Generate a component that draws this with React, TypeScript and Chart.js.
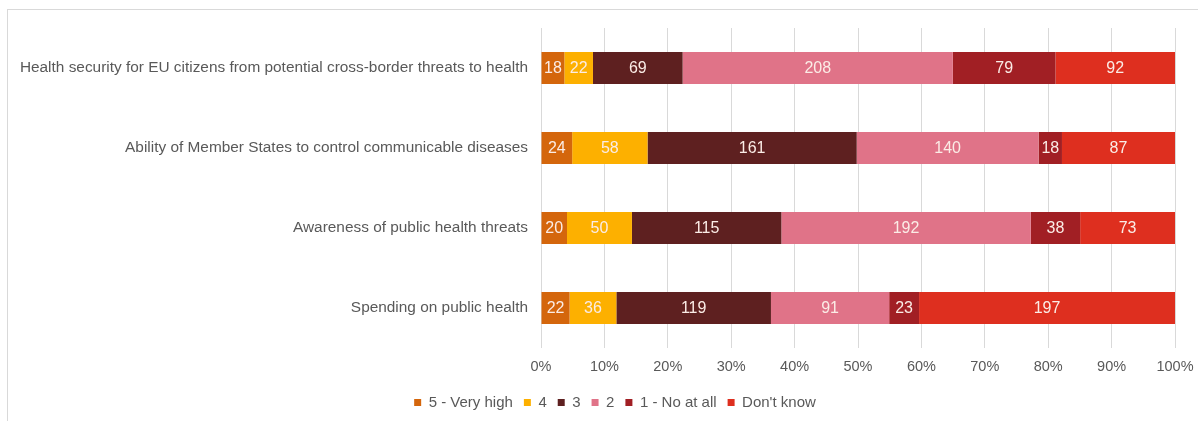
import React, { useEffect, useRef } from 'react';
import { Chart, registerables } from 'chart.js';

Chart.register(...registerables);

const categories = [
  'Health security for EU citizens from potential cross-border threats to health',
  'Ability of Member States to control communicable diseases',
  'Awareness of public health threats',
  'Spending on public health',
];

const seriesNames = ['5 - Very high', '4', '3', '2', '1 - No at all', "Don't know"];

const veryHigh = [18, 24, 20, 22];
const four = [22, 58, 50, 36];
const three = [69, 161, 115, 119];
const two = [208, 140, 192, 91];
const notAtAll = [79, 18, 38, 23];
const dontKnow = [92, 87, 73, 197];

const counts = [veryHigh, four, three, two, notAtAll, dontKnow];

const seriesColors = ['#D4660C', '#FDB000', '#5E2020', '#E07388', '#A11F24', '#DE2F1F'];

const xTickValues = [0, 10, 20, 30, 40, 50, 60, 70, 80, 90, 100];

const FONT = '"Liberation Sans", Arial, sans-serif';

const totals = categories.map((_, j) => counts.reduce((s, arr) => s + arr[j], 0));

const barLabels = {
  id: 'barLabels',
  afterLayout(chart: any) {
    // let long category labels extend left of the axis box without clipping
    if (chart.scales.y) chart.scales.y.left = 0;
  },
  afterDatasetsDraw(chart: any) {
    const ctx = chart.ctx;
    ctx.save();
    ctx.font = `16px ${FONT}`;
    ctx.fillStyle = '#FBECE6';
    ctx.textAlign = 'center';
    ctx.textBaseline = 'middle';
    chart.data.datasets.forEach((ds: any, i: number) => {
      const meta = chart.getDatasetMeta(i);
      meta.data.forEach((bar: any, j: number) => {
        const p = bar.getProps(['x', 'y', 'base'], true);
        ctx.fillText(String(counts[i][j]), (p.x + p.base) / 2, p.y + 1);
      });
    });
    ctx.restore();
  },
};

export default function App() {
  const ref = useRef<HTMLCanvasElement>(null);

  useEffect(() => {
    if (!ref.current) return;
    Chart.defaults.font.family = FONT;
    const chart = new Chart(ref.current, {
      type: 'bar',
      data: {
        labels: categories,
        datasets: seriesNames.map((name, i) => ({
          label: name,
          data: counts[i].map((v, j) => (v / totals[j]) * 100),
          backgroundColor: seriesColors[i],
          borderWidth: 0,
          categoryPercentage: 0.8,
          barPercentage: 0.5,
        })),
      },
      options: {
        indexAxis: 'y',
        animation: false,
        responsive: false,
        layout: { padding: { left: 55, right: 23, top: 28, bottom: 1 } },
        plugins: {
          legend: {
            position: 'bottom',
            labels: {
              boxWidth: 7,
              boxHeight: 7,
              padding: 11,
              color: '#595959',
              font: { size: 15, family: FONT },
            },
          },
          tooltip: { enabled: false },
        },
        scales: {
          x: {
            stacked: true,
            min: 0,
            max: 100,
            afterBuildTicks: (scale: any) => {
              scale.ticks = xTickValues.map((v) => ({ value: v }));
            },
            afterFit: (scale: any) => {
              scale.height = 36;
              scale.paddingLeft = 0;
              scale.paddingRight = 0;
            },
            grid: { color: '#D9D9D9', drawTicks: false, lineWidth: 1 },
            border: { display: false },
            ticks: {
              padding: 10,
              color: '#595959',
              font: { size: 14.5, family: FONT },
              callback: (v: any) => `${v}%`,
            },
          },
          y: {
            stacked: true,
            afterFit: (scale: any) => {
              scale.width = 486;
            },
            grid: { display: false, drawTicks: false },
            border: { display: false },
            ticks: {
              padding: 13,
              color: '#595959',
              font: { size: 15.4, family: FONT },
            },
          },
        },
      },
      plugins: [barLabels],
    });
    return () => chart.destroy();
  }, []);

  return (
    <div style={{ position: 'absolute', left: 0, top: 0, width: 1198, height: 421, background: '#fff' }}>
      <div
        style={{
          position: 'absolute',
          left: 7,
          top: 9,
          right: 0,
          bottom: 0,
          borderTop: '1px solid #D9D9D9',
          borderLeft: '1px solid #D9D9D9',
        }}
      />
      <canvas ref={ref} width={1198} height={421} style={{ position: 'absolute', left: 0, top: 0 }} />
    </div>
  );
}
